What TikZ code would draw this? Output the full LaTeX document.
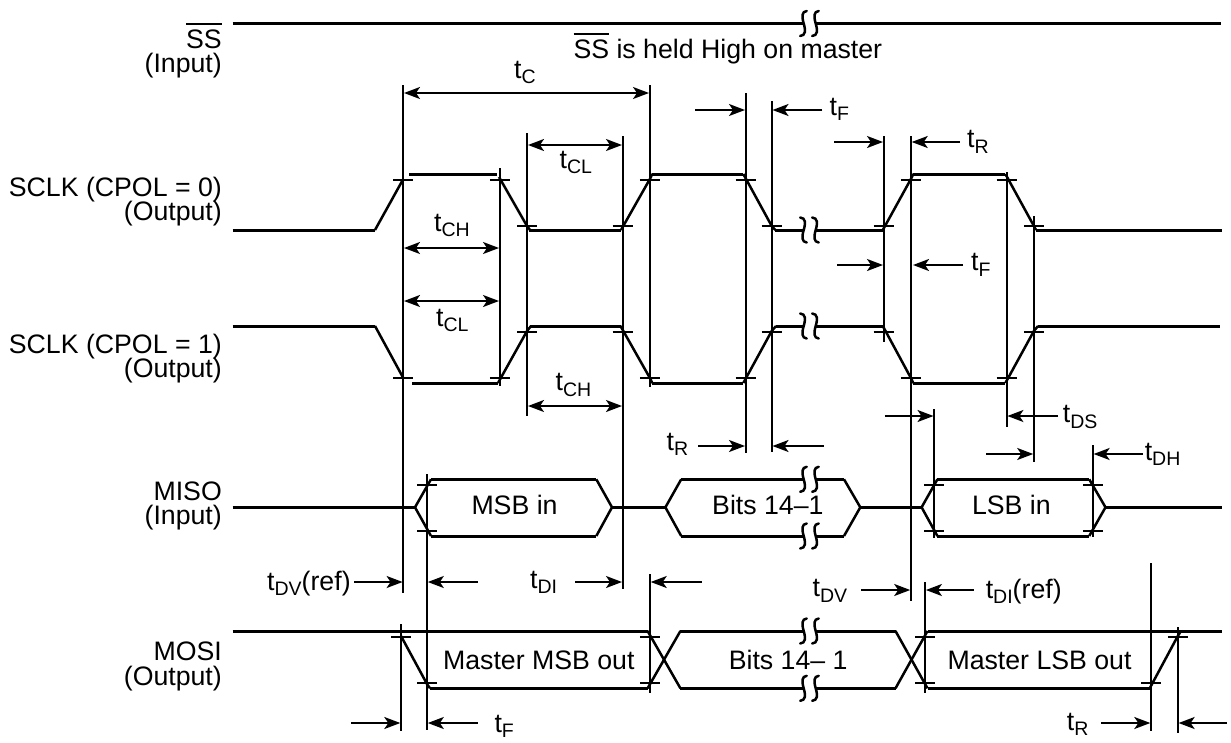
\documentclass[tikz,border=0pt]{standalone}
\usepackage{fontspec}
\setmainfont{Liberation Sans}
\usetikzlibrary{arrows.meta}
\newcommand\tsb[1]{t\raisebox{-5.5pt}{\fontsize{19.5}{19.5}\selectfont #1}}
\newcommand\ssbar{\leavevmode\sbox0{SS}\rlap{\rule[23.5pt]{\wd0}{1.7pt}}\usebox0}
\tikzset{
  sig/.style={line width=3pt,line join=miter},
  slope/.style={line width=2.5pt},
  guide/.style={line width=1.9pt},
  tick/.style={line width=1.9pt},
  dimarrow/.style={line width=1.9pt,-{Stealth[length=16pt,width=12pt,inset=4pt]}},
  dimboth/.style={line width=1.9pt,{Stealth[length=16pt,width=12pt,inset=4pt]}-{Stealth[length=16pt,width=12pt,inset=4pt]}},
  txt/.style={inner sep=0pt,font=\fontsize{26.7}{26.7}\selectfont,anchor=base west},
  rtxt/.style={txt,anchor=base east},
}
% break symbol: #1 x, #2 y, #3 yscale (+1: hook top right, -1: hook top left)
\newcommand\brk[3]{%
  \begin{scope}[shift={(#1,#2)},yscale=#3]
    \fill[white] (-5.5,-3) rectangle (5.5,3);
    \fill[white] (-9,-13) rectangle (9,-1.5);
    \fill[white] (-9,1.5) rectangle (9,13);
    \draw[line width=2.5pt,line cap=round] (-3,-12.5) .. controls (-8,-12) and (-8,-7) .. (-6,0) .. controls (-4,7) and (-4,12) .. (-9.5,12.5);
    \draw[line width=2.5pt,line cap=round] (9,-12.5) .. controls (4,-12) and (4,-7) .. (6,0) .. controls (8,7) and (8,12) .. (2.5,12.5);
  \end{scope}}
\newcommand\tk[2]{\draw[tick] (#1-10,#2) -- (#1+10,#2);}
\begin{document}
\begin{tikzpicture}[x=1pt,y=-1pt]
\useasboundingbox (0,0) rectangle (1231,742);
% guides
\foreach \gx/\ga/\gb in {403.3/85/593,499.8/168/386,527/133/416,622.7/136/589,649.9/85/387,649.9/574/693,745.6/93/453,771.7/101/452,883.6/136/342,910.9/136/600.7,1006.6/172/427,1033.9/216/462,934.2/409/538,1092.8/445/537,427/474/730,401/624/731,925.1/582/693,1151/563/731,1177.8/627/733}
  \draw[guide] (\gx,\ga) -- (\gx,\gb);
% ticks
\foreach \tx in {403.3,499.8,649.9,745.6,910.9,1006.6} {\tk{\tx}{180}\tk{\tx}{378}}
\foreach \tx in {527,622.7,771.7,883.6,1033.9} {\tk{\tx}{226}\tk{\tx}{332}}
\foreach \tx in {427,934.2,1092.8} {\tk{\tx}{485}\tk{\tx}{531}}
\foreach \tx in {401,649.9,925.1,1177.8} {\tk{\tx}{636.7}}
\foreach \tx in {427,649.9,925.1,1151} {\tk{\tx}{683}}
% SS
\draw[sig] (232.5,23.5) -- (1221,23.5);
\brk{809.7}{23.5}{1}
% SCLK 0
\draw[sig] (232.5,230) -- (375,230);
\draw[slope] (375,230) -- (403.3,179);
\draw[sig] (409,174) -- (497,174);
\draw[slope] (499,177) -- (527,226) -- (530,230);
\draw[sig] (529,230) -- (621,230);
\draw[slope] (621,230) -- (649.9,179) -- (652.3,174);
\draw[sig] (652,174) -- (743.3,174);
\draw[slope] (743.3,174) -- (771.7,226) -- (775.3,230);
\draw[sig] (775,230) -- (882.8,230);
\brk{809.7}{230}{-1}
\draw[slope] (882.8,230) -- (910.9,179) -- (913.3,174);
\draw[sig] (913,174) -- (1005.4,174);
\draw[slope] (1005.4,174) -- (1033.9,226) -- (1036,230);
\draw[sig] (1036,230) -- (1222,230);
% SCLK 1
\draw[sig] (232.5,326) -- (375,326);
\draw[slope] (375,326) -- (403.3,378);
\draw[sig] (412,383) -- (498,383);
\draw[slope] (498,383) -- (527,331) -- (531,326);
\draw[sig] (530,326) -- (620.5,326);
\draw[slope] (620.5,326) -- (649.9,378) -- (652.3,383);
\draw[sig] (652,383) -- (743.3,383);
\draw[slope] (743.3,383) -- (771.7,331) -- (776,326);
\draw[sig] (775.5,326) -- (882.8,326);
\brk{809.7}{326}{-1}
\draw[slope] (882.8,326) -- (910.9,378) -- (913.3,383);
\draw[sig] (913,383) -- (1005.4,383);
\draw[slope] (1005.4,383) -- (1033.9,331) -- (1038,326);
\draw[sig] (1037.5,326) -- (1220,326);
% MISO
\draw[sig] (232.5,507.3) -- (415,507.3);
\draw[slope] (415,507.3) -- (431,479.3);
\draw[slope] (415,507.3) -- (431,536);
\draw[sig] (431,479.3) -- (596.3,479.3);
\draw[sig] (431,536) -- (596.3,536);
\draw[slope] (596.3,479.3) -- (612,507.3) -- (596.3,536);
\draw[sig] (612,507.3) -- (665.4,507.3);
\draw[slope] (681.2,479.3) -- (665.4,507.3) -- (681.2,536);
\draw[sig] (681.2,479.3) -- (844,479.3);
\draw[sig] (681.2,536) -- (844,536);
\draw[slope] (844,479.3) -- (860.3,507.3) -- (844,536);
\brk{809.7}{479.3}{1}
\brk{809.7}{536}{1}
\draw[sig] (860.3,507.3) -- (921.6,507.3);
\draw[slope] (937.4,479.3) -- (921.6,507.3) -- (937.4,536);
\draw[sig] (937.4,479.3) -- (1089.2,479.3);
\draw[sig] (937.4,536) -- (1089.2,536);
\draw[slope] (1089.2,479.3) -- (1105.5,507.3) -- (1089.2,536);
\draw[sig] (1105.5,507.3) -- (1222,507.3);
% MOSI
\draw[sig] (232.5,631) -- (647.6,631);
\draw[slope] (647.6,631) -- (680.4,688.3);
\draw[slope] (401,636) -- (427,684) -- (430,688.3);
\draw[sig] (429.5,688.3) -- (647.6,688.3);
\draw[slope] (647.6,688.3) -- (680.4,631);
\draw[sig] (680.4,631) -- (895.5,631);
\draw[sig] (680.4,688.3) -- (895.5,688.3);
\brk{809.7}{631}{1}
\brk{809.7}{688.3}{1}
\draw[slope] (895.5,631) -- (927.5,688.3);
\draw[slope] (895.5,688.3) -- (927.5,631);
\draw[sig] (927.5,631) -- (1222,631);
\draw[sig] (927.5,688.3) -- (1149.7,688.3);
\draw[slope] (1149.7,688.3) -- (1177.8,636) -- (1181,631);
% double-headed dimensions
\draw[dimboth] (404,93) -- (649,93);
\draw[dimboth] (528,145) -- (622,145);
\draw[dimboth] (404,248) -- (499,248);
\draw[dimboth] (404,301) -- (499,301);
\draw[dimboth] (528,406) -- (622,406);
% single arrows
\foreach \ax/\bx/\yy in {695/745/110,822.3/772.5/110,834.2/883/142,960/911.7/142,837/883/265,963/913/265,1058/1007.4/416,986/1033.2/454,1143/1093.6/454,884.8/933.5/416,698/745/446,824/772.5/446,354.3/402.6/582,477.7/427.8/582,575.3/622/582,701.7/650.7/582,861/910.2/590,973.8/925.9/590,351/400.3/723,477.7/427.8/723,1101/1150.3/723,1227/1178.6/723}
  \draw[dimarrow] (\ax,\yy) -- (\bx,\yy);
% left labels
\node[rtxt] (lss) at (222,48) {\ssbar};
\node[rtxt] (lssio) at (222,72.7) {(Input)};
\node[rtxt] (lc0) at (222,196.7) {SCLK (CPOL = 0)};
\node[rtxt] (lc0io) at (222,220.7) {(Output)};
\node[rtxt] (lc1) at (222,353) {SCLK (CPOL = 1)};
\node[rtxt] (lc1io) at (222,377) {(Output)};
\node[rtxt] (lmi) at (222,500.7) {MISO};
\node[rtxt] (lmiio) at (222,524) {(Input)};
\node[rtxt] (lmo) at (222,660.7) {MOSI};
\node[rtxt] (lmoio) at (222,685) {(Output)};
% signal text
\node[txt] (held) at (573.3,58) {\ssbar{} is held High on master};
\node[txt] (msbin) at (471.3,514.3) {MSB in};
\node[txt] (bitsin) at (712,514.3) {Bits 14–1};
\node[txt] (lsbin) at (971.8,514.3) {LSB in};
\node[txt] (msbout) at (442.9,669) {Master MSB out};
\node[txt] (bitsout) at (728.6,669) {Bits 14– 1};
\node[txt] (lsbout) at (947.3,669) {Master LSB out};
% timing labels
\node[txt] (tc) at (514,78) {\tsb{C}};
\node[txt] (tcla) at (559.5,168) {\tsb{CL}};
\node[txt] (tcha) at (434,231) {\tsb{CH}};
\node[txt] (tclb) at (436,326) {\tsb{CL}};
\node[txt] (tchb) at (555.5,390.7) {\tsb{CH}};
\node[txt] (tfa) at (829.5,115) {\tsb{F}};
\node[txt] (tra) at (967,147.7) {\tsb{R}};
\node[txt] (tfb) at (971,270.7) {\tsb{F}};
\node[txt] (tds) at (1062.7,422.7) {\tsb{DS}};
\node[txt] (tdh) at (1144.6,460) {\tsb{DH}};
\node[txt] (trb) at (666.5,450) {\tsb{R}};
\node[txt] (tdvr) at (267,590) {\tsb{DV}(ref)};
\node[txt] (tdi) at (530,588) {\tsb{DI}};
\node[txt] (tdv) at (812.5,596.7) {\tsb{DV}};
\node[txt] (tdir) at (985.6,598) {\tsb{DI}(ref)};
\node[txt] (tfc) at (494.3,732) {\tsb{F}};
\node[txt] (trc) at (1066.7,730) {\tsb{R}};
\end{tikzpicture}
\end{document}
